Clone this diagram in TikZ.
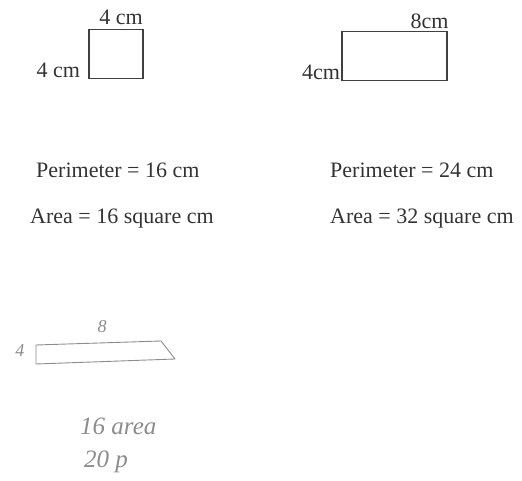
\documentclass[tikz,border=0pt]{standalone}
\usepackage{fontspec}
\setmainfont{Liberation Serif}
\usetikzlibrary{positioning}

\begin{document}
\begin{tikzpicture}[
  x=1pt, y=-1pt,
  font=\fontsize{22}{24}\selectfont,
  figbox/.style={draw=black!75, line width=1.6pt, inner sep=0pt},
  dim/.style={inner sep=0pt, text=black!80},
  fact/.style={inner sep=0pt, anchor=west, text=black!80},
  hand/.style={draw=black!45, line width=0.9pt, line join=round},
  scrawl/.style={inner sep=0pt, text=black!45, font=\fontsize{25}{27}\itshape},
  tick/.style={scrawl, font=\fontsize{18}{20}\itshape}
]
\useasboundingbox (0,0) rectangle (522,481);
% ---------- square ----------
\node[figbox, minimum width=54pt, minimum height=49pt] (sq) at (116,54) {};
\node[dim, above=4pt of sq.north, xshift=5pt] (sqtop) {4 cm};
\node[dim, left=8pt of sq.south west, anchor=south east, yshift=1pt] (sqleft) {4 cm};
% ---------- rectangle ----------
\node[figbox, minimum width=105pt, minimum height=49pt] (rc) at (394.5,56) {};
\node[dim, above=2pt of rc.north east, anchor=south east, xshift=1pt] (rctop) {8cm};
\node[dim, left=1pt of rc.south west, anchor=south east, yshift=1pt] (rcleft) {4cm};
% ---------- results ----------
\node[fact] (per1) at (36,170) {Perimeter = 16 cm};
\node[fact] (area1) at (30,219) {Area = 16 square cm};
\node[fact] (per2) at (330,170) {Perimeter = 24 cm};
\node[fact] (area2) at (330,219) {Area = 32 square cm};
% ---------- pencil sketch ----------
\draw[hand] (36,345) -- (161,341) -- (175,359) -- (36,364) -- cycle;
\node[tick] (hw8) at (102,327) {8};
\node[tick] (hw4) at (20,351) {4};
\node[scrawl, anchor=west] (harea) at (80,426) {16 area};
\node[scrawl, anchor=west] (hper) at (84,462) {20 p};
\end{tikzpicture}
\end{document}
